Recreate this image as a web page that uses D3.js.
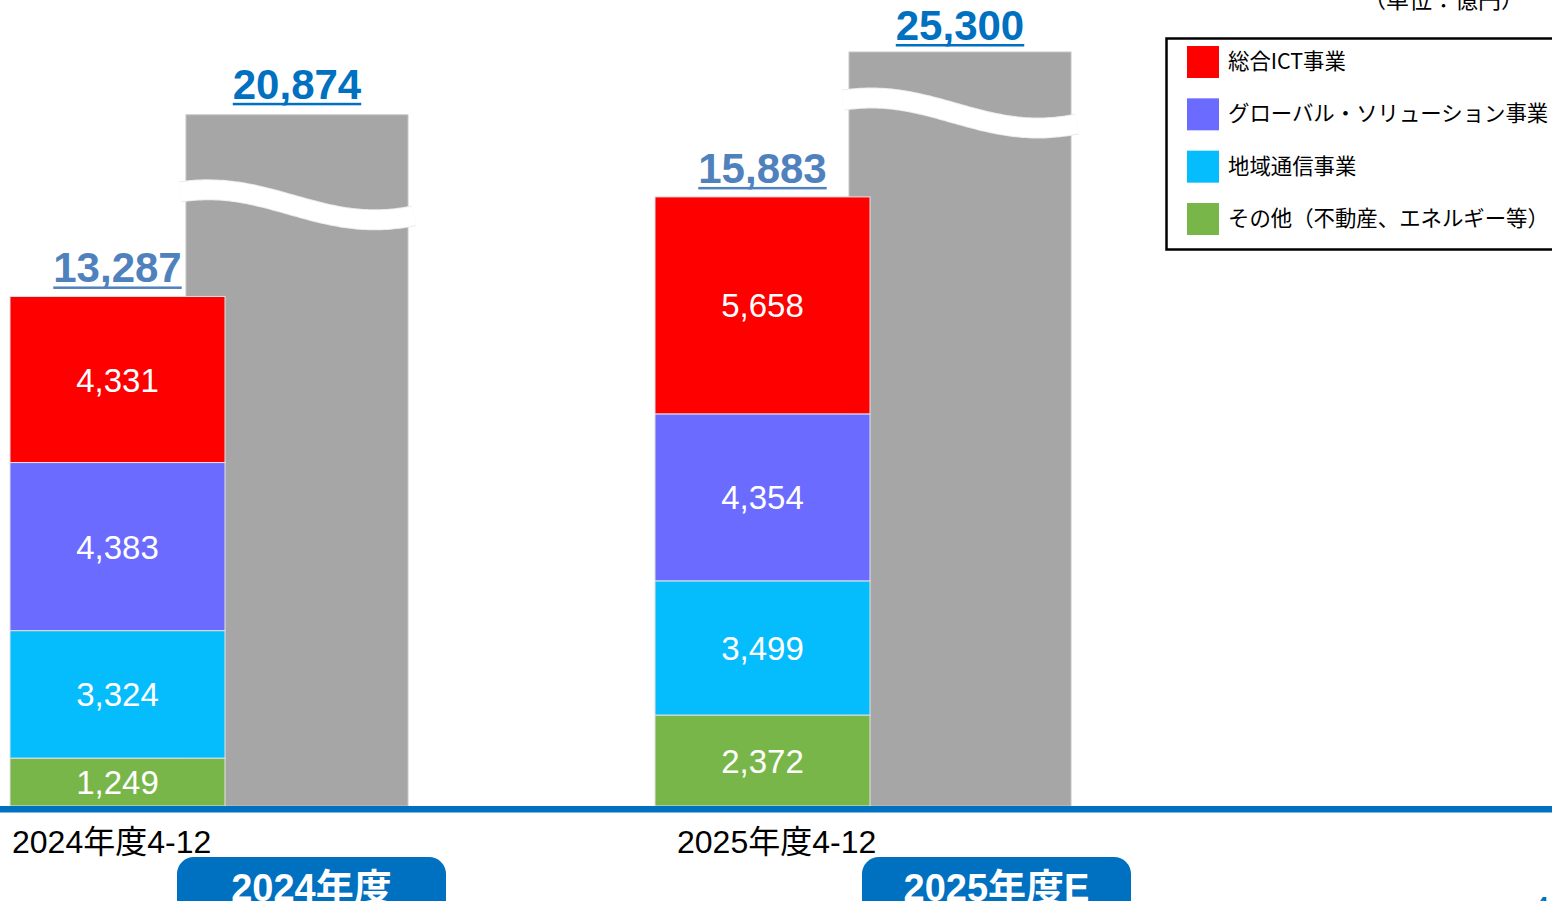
<!DOCTYPE html>
<html>
<head>
<meta charset="utf-8">
<script src="https://cdn.jsdelivr.net/npm/d3@7"></script>
<style>
  html, body { margin: 0; padding: 0; background: #fff; overflow: hidden; }
  svg { display: block; font-family: "Liberation Sans", "Noto Sans CJK JP", sans-serif; }
  .jp { font-family: "Noto Sans CJK JP", sans-serif; }
</style>
</head>
<body>
<script>
const years = ["2024", "2025"];
const periodLabels = ["2024年度4-12", "2025年度4-12"];
const fullYearLabels = ["2024年度", "2025年度E"];
const segmentNames = ["総合ICT事業", "グローバル・ソリューション事業", "地域通信事業", "その他（不動産、エネルギー等）"];
const segmentColors = ["#ff0000", "#6b6bff", "#05bcfc", "#79b64a"];
const ictValues = [4331, 5658];
const globalValues = [4383, 4354];
const regionalValues = [3324, 3499];
const otherValues = [1249, 2372];
const periodTotals = [13287, 15883];
const fullYearTotals = [20874, 25300];
const unitText = "（単位：億円）";

const width = 1552, height = 901;
const baseY = 806;
const fmt = d3.format(",");

// rows for d3.stack, bottom segment first
const keys = ["other", "regional", "global", "ict"];
const rows = years.map((y, i) => ({
    year: y, ict: ictValues[i], global: globalValues[i],
    regional: regionalValues[i], other: otherValues[i]
}));
const keyColor = {ict: segmentColors[0], global: segmentColors[1], regional: segmentColors[2], other: segmentColors[3]};
const series = d3.stack().keys(keys)(rows);

const svg = d3.select("body").append("svg")
    .attr("width", width)
    .attr("height", height);

// broken axis: compressed above the break
const y = d3.scaleLinear().domain([0, 16350, 25300]).range([baseY, 179, 52]);

const xStack = d3.scaleBand().domain(years).range([10, 870]).paddingInner(2 / 3);
const xFull = d3.scaleBand().domain(years).range([186, 1071]).paddingInner(0.6652);
const xPill = d3.scaleBand().domain(years).range([177, 1131]).paddingInner(0.6073);
const xCat = d3.scalePoint().domain(years).range([12, 677]);
const waveOffset = [90, 61];
const totalGap = [16, 12];

// full-year gray bars
const full = svg.append("g");
full.selectAll("rect").data(years).enter().append("rect")
    .attr("x", d => xFull(d))
    .attr("y", (d, i) => y(fullYearTotals[i]))
    .attr("width", xFull.bandwidth())
    .attr("height", (d, i) => baseY - y(fullYearTotals[i]))
    .attr("fill", "#a6a6a6")
    .attr("stroke", "#c4c4c4")
    .attr("stroke-width", 1);

// wave break on gray bars
const wave = d3.line().curve(d3.curveBasis);
years.forEach((yr, i) => {
    let x0 = xFull(yr), w = xFull.bandwidth();
    let c = y(fullYearTotals[i]) + waveOffset[i];
    let amp = 15, peak = x0 + w * 0.1, half = w * 0.75;
    let pts = d3.range(x0 - 6, x0 + w + 7, 3).map(x => [x, c - amp * Math.cos(Math.PI * (x - peak) / half)]);
    full.append("path").attr("d", wave(pts))
        .attr("fill", "none").attr("stroke", "#ececec").attr("stroke-width", 21);
    full.append("path").attr("d", wave(pts))
        .attr("fill", "none").attr("stroke", "#fff").attr("stroke-width", 19);
});

// stacked bars
const stack = svg.append("g");
series.forEach(s => {
    stack.selectAll(null).data(s).enter().append("rect")
        .attr("x", d => xStack(d.data.year))
        .attr("y", d => y(d[1]))
        .attr("width", xStack.bandwidth())
        .attr("height", d => y(d[0]) - y(d[1]))
        .attr("fill", keyColor[s.key])
        .attr("stroke", "#e2e2e2")
        .attr("stroke-width", 1);
    stack.selectAll(null).data(s).enter().append("text")
        .attr("x", d => xStack(d.data.year) + xStack.bandwidth() / 2)
        .attr("y", d => (y(d[0]) + y(d[1])) / 2 + 12)
        .attr("text-anchor", "middle")
        .attr("fill", "#fff")
        .attr("font-size", 33)
        .text(d => fmt(d.data[s.key]));
});

// totals with underline
function total(x, yPos, value, color){
    let t = svg.append("text")
        .attr("x", x).attr("y", yPos)
        .attr("text-anchor", "middle")
        .attr("font-size", 42).attr("font-weight", "bold")
        .attr("fill", color)
        .text(fmt(value));
    let len = t.node().getComputedTextLength();
    svg.append("rect")
        .attr("x", x - len / 2).attr("y", yPos + 4)
        .attr("width", len).attr("height", 2.5)
        .attr("fill", color);
}
years.forEach((yr, i) => {
    total(xStack(yr) + xStack.bandwidth() / 2, y(periodTotals[i]) - 14, periodTotals[i], "#4f81bd");
    total(xFull(yr) + xFull.bandwidth() / 2, y(fullYearTotals[i]) - totalGap[i], fullYearTotals[i], "#0070c0");
});

// baseline
svg.append("rect")
    .attr("x", 0).attr("y", baseY)
    .attr("width", width).attr("height", 6.5)
    .attr("fill", "#0070c0");

// category labels
svg.selectAll(".cat").data(years).enter().append("text")
    .attr("class", "cat")
    .attr("x", d => xCat(d)).attr("y", 853)
    .attr("font-size", 32)
    .attr("fill", "#000")
    .text((d, i) => periodLabels[i]);

// full-year pills
svg.selectAll(".pill").data(years).enter().append("rect")
    .attr("class", "pill")
    .attr("x", d => xPill(d)).attr("y", 857)
    .attr("width", xPill.bandwidth()).attr("height", 70)
    .attr("rx", 17)
    .attr("fill", "#0070c0");
svg.selectAll(".pillText").data(years).enter().append("text")
    .attr("class", "pillText")
    .attr("x", d => xPill(d) + xPill.bandwidth() / 2).attr("y", 901)
    .attr("text-anchor", "middle")
    .attr("font-size", 38).attr("font-weight", "bold")
    .attr("fill", "#fff")
    .text((d, i) => fullYearLabels[i]);

// legend
const ly = d3.scalePoint().domain(segmentNames).range([46, 203]);
const legend = svg.append("g");
legend.append("rect")
    .attr("x", 1166.5).attr("y", 38.5)
    .attr("width", 420).attr("height", 211)
    .attr("fill", "#fff")
    .attr("stroke", "#000").attr("stroke-width", 2.5);
legend.selectAll(".sw").data(segmentNames).enter().append("rect")
    .attr("class", "sw")
    .attr("x", 1187).attr("y", d => ly(d))
    .attr("width", 32).attr("height", 32)
    .attr("fill", (d, i) => segmentColors[i]);
legend.selectAll(".lt").data(segmentNames).enter().append("text")
    .attr("class", "lt jp")
    .attr("x", 1228).attr("y", d => ly(d) + 23)
    .attr("font-size", 21.4)
    .attr("fill", "#000")
    .text(d => d);

// unit, partly cut off at the top
svg.append("text")
    .attr("class", "jp")
    .attr("x", 1524).attr("y", 8)
    .attr("text-anchor", "end")
    .attr("font-size", 23)
    .attr("fill", "#000")
    .text(unitText);

// page number, mostly off the page
svg.append("text")
    .attr("x", 1536).attr("y", 912)
    .attr("font-size", 22).attr("font-weight", "bold")
    .attr("fill", "#0070c0")
    .text("4");
</script>
</body>
</html>
